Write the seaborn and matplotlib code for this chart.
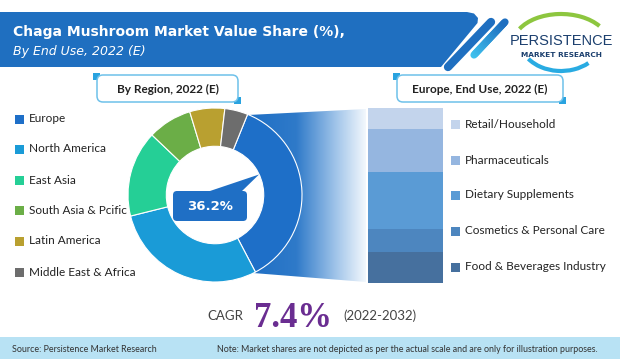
import numpy as np
import pandas as pd
import matplotlib
matplotlib.use("Agg")
import matplotlib.pyplot as plt
import seaborn as sns
from matplotlib.patches import Polygon, FancyBboxPatch, Rectangle, Arc, Circle
from matplotlib.colors import LinearSegmentedColormap
from matplotlib.collections import LineCollection

# ---------------- data ----------------
regions = ["Europe", "North America", "East Asia", "South Asia & Pcific",
           "Latin America", "Middle East & Africa"]
region_share = [36.2, 28.8, 16.0, 8.2, 6.5, 4.3]
region_colors = ["#1E6FC8", "#1A9BD7", "#25CF96", "#6BAE47", "#B9A030", "#6D6D6D"]

end_uses = ["Retail/Household", "Pharmaceuticals", "Dietary Supplements",
            "Cosmetics & Personal Care", "Food & Beverages Industry"]
end_use_share = [12.0, 24.7, 32.3, 13.2, 17.8]
end_use_colors = ["#C3D4EC", "#95B6E0", "#5A9BD5", "#4D86BF", "#46709E"]

highlight_label = "36.2%"
title_main = "Chaga Mushroom Market Value Share (%),"
title_sub = "By End Use, 2022 (E)"
box_left = "By Region, 2022 (E)"
box_right = "Europe, End Use, 2022 (E)"
cagr_word = "CAGR"
cagr_value = "7.4%"
cagr_period = "(2022-2032)"
source_text = "Source: Persistence Market Research"
note_text = "Note: Market shares are not depicted as per the actual scale and are only for illustration purposes."

# ---------------- setup ----------------
sns.set_theme(style="white")
plt.rcParams["font.family"] = ["Lato", "DejaVu Sans"]

W, H = 620, 359
fig = plt.figure(figsize=(W / 100, H / 100), dpi=100)
fig.patch.set_facecolor("white")


def px(x0, y0, x1, y1):
    return [x0 / W, 1 - y1 / H, (x1 - x0) / W, (y1 - y0) / H]


ax_bg = fig.add_axes([0, 0, 1, 1], zorder=0)
ax_bg.set_xlim(0, W)
ax_bg.set_ylim(H, 0)
ax_bg.axis("off")

# title banner
banner = Polygon([(0, 12), (467, 12), (474, 13.5), (478, 18), (477.5, 23),
                  (441, 67), (0, 67)], closed=True, facecolor="#1F6FC0",
                 edgecolor="none", zorder=1)
ax_bg.add_patch(banner)
ax_bg.plot([448, 491], [67, 22], color="#1F6FC0", lw=6, solid_capstyle="round", zorder=1)
n = 30
xs = np.linspace(474, 505, n)
ys = np.linspace(55, 22, n)
segs = [[(xs[i], ys[i]), (xs[i + 1], ys[i + 1])] for i in range(n - 1)]
scm = LinearSegmentedColormap.from_list("s", ["#40C2EE", "#1F6FC0"])
lc = LineCollection(segs, colors=[scm(i / (n - 2)) for i in range(n - 1)],
                    linewidths=5.2, capstyle="round", zorder=1)
ax_bg.add_collection(lc)

ax_bg.text(13, 32, title_main, color="white", fontsize=10, fontweight="bold",
           va="center", ha="left", family=["DejaVu Sans"], zorder=2)
ax_bg.text(13, 52, title_sub, color="white", fontsize=9, fontstyle="italic",
           va="center", ha="left", family=["DejaVu Sans"], zorder=2)

# logo
ax_bg.add_patch(Arc((561, 44), 96, 60, theta1=200, theta2=335, color="#8DC63F", lw=3, zorder=2))
ax_bg.add_patch(Arc((561, 40), 82, 62, theta1=40, theta2=150, color="#29ABE2", lw=3, zorder=2))
ax_bg.text(561, 41, "PERSISTENCE", color="#1B3F6E", fontsize=10.5, va="center",
           ha="center", family=["Liberation Sans"], zorder=3)
ax_bg.text(561, 55, "MARKET RESEARCH", color="#1B3F6E", fontsize=5.3, fontweight="bold",
           va="center", ha="center", family=["DejaVu Sans"], zorder=3)


# sub-header boxes
def header_box(x0, x1, text):
    y0, y1 = 75, 102
    ax_bg.add_patch(Rectangle((x0 - 4, y0 - 2), 7, 7, facecolor="#29A3E0", edgecolor="none", zorder=2))
    ax_bg.add_patch(Rectangle((x1 - 4, y1 - 5), 7, 7, facecolor="#29A3E0", edgecolor="none", zorder=2))
    ax_bg.add_patch(FancyBboxPatch((x0, y0), x1 - x0, y1 - y0,
                                   boxstyle="round,pad=0,rounding_size=6",
                                   facecolor="white", edgecolor="#6EC1EA", lw=1.1, zorder=3))
    ax_bg.text((x0 + x1) / 2, (y0 + y1) / 2 + 0.5, text, color="#222222", fontsize=8.5,
               fontweight="bold", ha="center", va="center", zorder=4)


header_box(97, 238, box_left)
header_box(397, 563, box_right)

# gradient connector
gcm = LinearSegmentedColormap.from_list(
    "g", [(0, "#1F6FC5"), (0.4, "#2F7AC9"), (0.75, "#A3C6EA"), (1.0, "#F3F8FD")])
grad = np.linspace(0, 1, 256).reshape(1, -1)
im = ax_bg.imshow(grad, extent=(250, 366, 282, 109), cmap=gcm, aspect="auto", zorder=1)
clip = Polygon([(248, 115), (366, 109), (366, 282), (253, 273)], closed=True,
               facecolor="none", edgecolor="none", transform=ax_bg.transData)
ax_bg.add_patch(clip)
im.set_clip_path(clip)
ax_bg.set_xlim(0, W)
ax_bg.set_ylim(H, 0)

# left legend
left_y = [119, 149, 180, 210, 241, 272]
for name, col, y in zip(regions, region_colors, left_y):
    ax_bg.add_patch(Rectangle((15, y - 4.5), 9, 9, facecolor=col, edgecolor="none", zorder=2))
    ax_bg.text(29, y, name, color="#222222", fontsize=8.5, va="center", ha="left", zorder=2)

# right legend
right_y = [124, 160, 195, 231, 267]
for name, col, y in zip(end_uses, end_use_colors, right_y):
    ax_bg.add_patch(Rectangle((451, y - 4.5), 9, 9, facecolor=col, edgecolor="none", zorder=2))
    ax_bg.text(465, y, name, color="#222222", fontsize=8.5, va="center", ha="left", zorder=2)

# CAGR line
ax_bg.text(207, 316, cagr_word, color="#444444", fontsize=9.5, va="center", ha="left")
ax_bg.text(254, 327, cagr_value, color="#6A2D91", fontsize=25, fontweight="bold",
           va="baseline", ha="left", family=["Liberation Serif"])
ax_bg.text(343, 316, cagr_period, color="#444444", fontsize=9.5, va="center", ha="left")

# bottom band
ax_bg.add_patch(Rectangle((0, 337), W, 22, facecolor="#B8E2F4", edgecolor="none", zorder=1))
ax_bg.text(12, 349, source_text, color="#333333", fontsize=6.4, va="center", ha="left", zorder=2)
ax_bg.text(217, 349, note_text, color="#333333", fontsize=6.4, va="center", ha="left", zorder=2)

# ---------------- donut ----------------
ax_d = fig.add_axes(px(128, 108, 302, 282), zorder=2)
ax_d.add_patch(Circle((0, 0), 0.57, facecolor="white", edgecolor="none", zorder=0))
ax_d.pie(region_share, colors=region_colors, startangle=68, counterclock=False,
         radius=1, wedgeprops=dict(width=0.44, edgecolor="white", linewidth=0.8))
ax_d.set_xlim(-1.0, 1.0)
ax_d.set_ylim(-1.0, 1.0)
ax_d.set_aspect("equal")
ax_d.axis("off")
ax_d.patch.set_alpha(0)

# ---------------- stacked bar ----------------
ax_b = fig.add_axes(px(368, 108, 443, 283), zorder=2)
cum = np.cumsum(end_use_share[::-1])[::-1]
df = pd.DataFrame({"region": ["Europe"] * len(end_uses), "end_use": end_uses, "cum": cum})
for i in range(len(df)):
    sns.barplot(data=df.iloc[[i]], x="region", y="cum", color=end_use_colors[i],
                saturation=1, width=1, errorbar=None, linewidth=0, ax=ax_b)
ax_b.set_xlim(-0.5, 0.5)
ax_b.set_ylim(0, 100)
ax_b.axis("off")
ax_b.patch.set_alpha(0)

# ---------------- foreground callout ----------------
ax_fg = fig.add_axes([0, 0, 1, 1], zorder=5)
ax_fg.set_xlim(0, W)
ax_fg.set_ylim(H, 0)
ax_fg.axis("off")
ax_fg.patch.set_alpha(0)
ax_fg.add_patch(Polygon([(207, 192), (259, 174.5), (241, 192)], closed=True,
                        facecolor="#1F6FC5", edgecolor="none"))
ax_fg.add_patch(FancyBboxPatch((173, 191), 74, 30, boxstyle="round,pad=0,rounding_size=4",
                               facecolor="#1F6FC5", edgecolor="none"))
ax_fg.text(210, 206.5, highlight_label, color="white", fontsize=9.5, fontweight="bold",
           ha="center", va="center", family=["DejaVu Sans"])

fig.savefig("out.png", dpi=100)
